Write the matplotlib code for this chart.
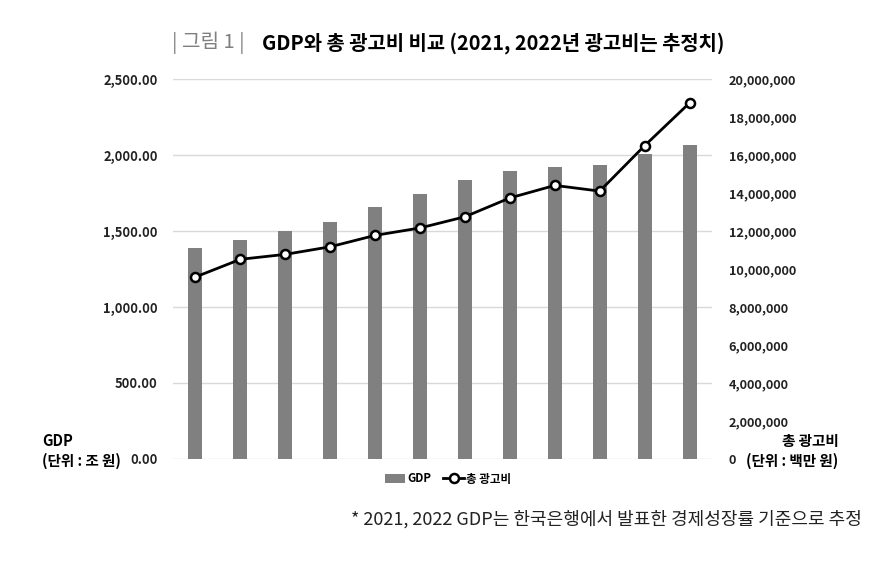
import numpy as np
import matplotlib
matplotlib.use("Agg")
import matplotlib.pyplot as plt
from matplotlib.ticker import FuncFormatter

plt.rcParams['font.family'] = ['Noto Sans CJK KR', 'DejaVu Sans']

# data (2011 - 2022)
years = [2011, 2012, 2013, 2014, 2015, 2016, 2017, 2018, 2019, 2020, 2021, 2022]
gdp = [1389, 1440, 1500, 1562, 1658, 1741, 1836, 1898, 1924, 1933, 2007, 2065]
ad_spend = [9580000, 10510000, 10770000, 11170000, 11770000, 12160000,
            12750000, 13740000, 14400000, 14100000, 16490000, 18740000]

left_ticks = [0, 500, 1000, 1500, 2000, 2500]
right_ticks = [0, 2000000, 4000000, 6000000, 8000000, 10000000, 12000000,
               14000000, 16000000, 18000000, 20000000]

fig = plt.figure(figsize=(8.85, 5.62), dpi=100)
ax = fig.add_axes([173/885, 1 - 459/562, (712-173)/885, (459-79)/562])
x = np.arange(len(years))

ax.bar(x, gdp, width=0.31, color='#808080', zorder=2, label='GDP')
ax.set_xlim(-0.5, len(years) - 0.5)
ax.set_ylim(0, 2500)
ax.set_yticks(left_ticks)
ax.yaxis.set_major_formatter(FuncFormatter(lambda v, p: f'{v:,.2f}'))
ax.set_xticks([])
ax.grid(axis='y', color='#d9d9d9', linewidth=1, zorder=0)
ax.tick_params(axis='y', length=0, pad=11, labelsize=9.3, colors='#222222')
for lab in ax.get_yticklabels():
    lab.set_fontweight('bold')
for s in ax.spines.values():
    s.set_visible(False)

ax2 = ax.twinx()
ax2.plot(x, ad_spend, color='black', linewidth=2, marker='o', markersize=6.5,
         markerfacecolor='white', markeredgecolor='black', markeredgewidth=1.8,
         zorder=3, label='총 광고비')
ax2.set_ylim(0, 20000000)
ax2.set_yticks(right_ticks)
ax2.yaxis.set_major_formatter(FuncFormatter(lambda v, p: f'{v:,.0f}'))
ax2.tick_params(axis='y', length=0, pad=12, labelsize=9.2, colors='#222222')
for lab in ax2.get_yticklabels():
    lab.set_fontweight('bold')
for s in ax2.spines.values():
    s.set_visible(False)

# title
fig.text(172/885, 1 - 43/562, '| 그림 1 |', color='#7f7f7f', fontsize=14.5,
         va='center', ha='left')
fig.text(262/885, 1 - 43/562, 'GDP와 총 광고비 비교 (2021, 2022년 광고비는 추정치)',
         color='black', fontsize=14.3, fontweight='bold', va='center', ha='left')

# axis unit labels
fig.text(42/885, 1 - 441/562, 'GDP', fontsize=10.5, fontweight='bold', va='center')
fig.text(42/885, 1 - 461/562, '(단위 : 조 원)', fontsize=10.5, fontweight='bold', va='center')
fig.text(810/885, 1 - 441/562, '총 광고비', fontsize=10.5, fontweight='bold',
         va='center', ha='center')
fig.text(838/885, 1 - 461/562, '(단위 : 백만 원)', fontsize=10.5, fontweight='bold',
         va='center', ha='right')

# legend
h1, l1 = ax.get_legend_handles_labels()
h2, l2 = ax2.get_legend_handles_labels()
fig.legend(h1 + h2, l1 + l2, loc='center', bbox_to_anchor=(448/885, 1 - 479/562),
           ncol=2, frameon=False, handlelength=1.8, handletextpad=0.2,
           columnspacing=1.0, prop={'weight': 'bold', 'size': 8.3})

# footnote
fig.text(862/885, 1 - 519/562, '* 2021, 2022 GDP는 한국은행에서 발표한 경제성장률 기준으로 추정',
         fontsize=13, color='#222222', va='center', ha='right')

fig.savefig('out.png', dpi=100)
